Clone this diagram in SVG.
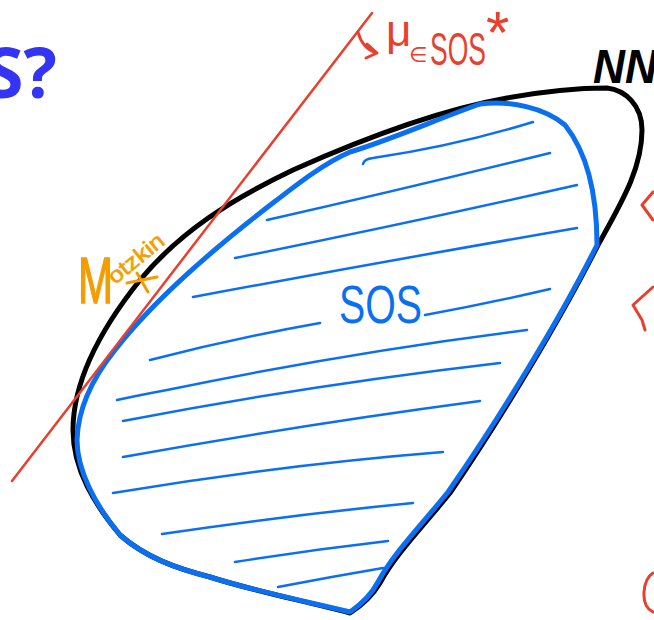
<svg xmlns="http://www.w3.org/2000/svg" width="654" height="620" viewBox="0 0 654 620">
<style>
.nn{fill:none;stroke:#000;stroke-width:5;stroke-linecap:round;stroke-linejoin:round}
.sos{fill:none;stroke:#0b6ff2;stroke-width:5;stroke-linecap:round;stroke-linejoin:round}
.hatch{fill:none;stroke:#0b6ff2;stroke-width:2.5;stroke-linecap:round}
.red{fill:none;stroke:#e8402e;stroke-linecap:round;stroke-linejoin:round}
.org{fill:none;stroke:#f59d00;stroke-width:3;stroke-linecap:round}
text{font-family:"Liberation Sans",Arial,sans-serif}
</style>
<rect width="654" height="620" fill="#fff"/>
<g id="title">
<text x="57" y="98" text-anchor="end" font-weight="bold" font-size="70" fill="#3434f4" style="font-family:'Open Sans','Liberation Sans',sans-serif">S?</text>
</g>
<g id="nn-set">
<path class="nn" d="M350 613 C300 600 250 590 210 577 C175 568 145 557 120 535 C95 505 73 470 73 430 C73 380 100 330 140 280 C180 232 230 200 293 170 C360 140 440 110 507 98 C540 92 580 88 607 88 C625 90 642 105 642 130 C642 170 620 205 597 247 C560 320 500 420 450 493 C420 530 395 555 380 583 Q370 600 350 613 Z"/>
<text x="593" y="83" font-size="48" font-weight="bold" font-style="italic" textLength="64" lengthAdjust="spacingAndGlyphs">NN</text>
</g>
<g id="sos-set">
<path class="sos" d="M597 245 C559 321 498 420 448 492 C418 529 393 554 378 582 Q369 599 350 612 C300 600 250 590 210 577 C175 568 145 557 120 535 C95 505 77 470 77 440 C78 405 95 375 115 350 C150 305 200 260 260 213 C290 190 320 165 350 152 C390 140 440 118 480 104 C510 100 545 108 565 125 C585 150 597 190 597 245"/>
<path class="hatch" d="M363 164 Q364 159 373 158 Q455 146 533 122"/>
<path class="hatch" d="M267 220 Q400 190 550 153"/>
<path class="hatch" d="M235 258 Q400 225 577 185"/>
<path class="hatch" d="M193 297 Q380 262 577 228"/>
<path class="hatch" d="M150 360 Q235 338 320 323"/>
<path class="hatch" d="M425 315 Q490 303 550 289"/>
<path class="hatch" d="M117 400 Q140 395 167 390 Q350 352 527 330"/>
<path class="hatch" d="M123 421 Q310 385 500 363"/>
<path class="hatch" d="M123 457 Q300 425 480 401"/>
<path class="hatch" d="M113 493 Q280 465 443 452"/>
<path class="hatch" d="M162 534 Q290 515 413 503"/>
<path class="hatch" d="M235 562 Q310 550 388 541"/>
<path class="hatch" d="M278 587 Q330 577 383 568"/>
<text x="339" y="323" font-size="54" fill="#0b6ff2" textLength="83" lengthAdjust="spacingAndGlyphs">SOS</text>
</g>
<g id="hyperplane">
<path class="red" stroke-width="2.5" d="M12 481 L372 13"/>
<path class="red" stroke-width="3" d="M358 32 Q362 48 376 53 M367 44 L377 53 L366 58"/>
<text x="386" y="46" font-size="44" fill="#e8402e">μ</text>
<text x="409" y="62" font-size="21" fill="#e8402e" style="font-family:'DejaVu Sans',sans-serif">∈</text>
<text x="430" y="65" font-size="46" fill="#e8402e" textLength="56" lengthAdjust="spacingAndGlyphs">SOS</text>
<text x="486" y="53" font-size="60" fill="#e8402e">*</text>
</g>
<g id="motzkin">
<text x="78" y="303" font-size="64" fill="#f59d00" stroke="#f59d00" stroke-width="1.5" textLength="35" lengthAdjust="spacingAndGlyphs">M</text>
<text transform="translate(115 285) rotate(-39)" font-size="22" fill="#f59d00" stroke="#f59d00" stroke-width="0.6" textLength="66" lengthAdjust="spacingAndGlyphs">otzkin</text>
<path class="org" d="M127 283 L157 277 M137 273 L148 292"/>
</g>
<g id="margin-marks">
<path class="red" stroke-width="3" d="M653 192 L642 205 L653 220"/>
<path class="red" stroke-width="3" d="M653 287 L633 305 L642 320 L645 330"/>
<path class="red" stroke-width="3" d="M653 573 Q645 578 644 592 Q643 607 653 612"/>
</g>
</svg>
